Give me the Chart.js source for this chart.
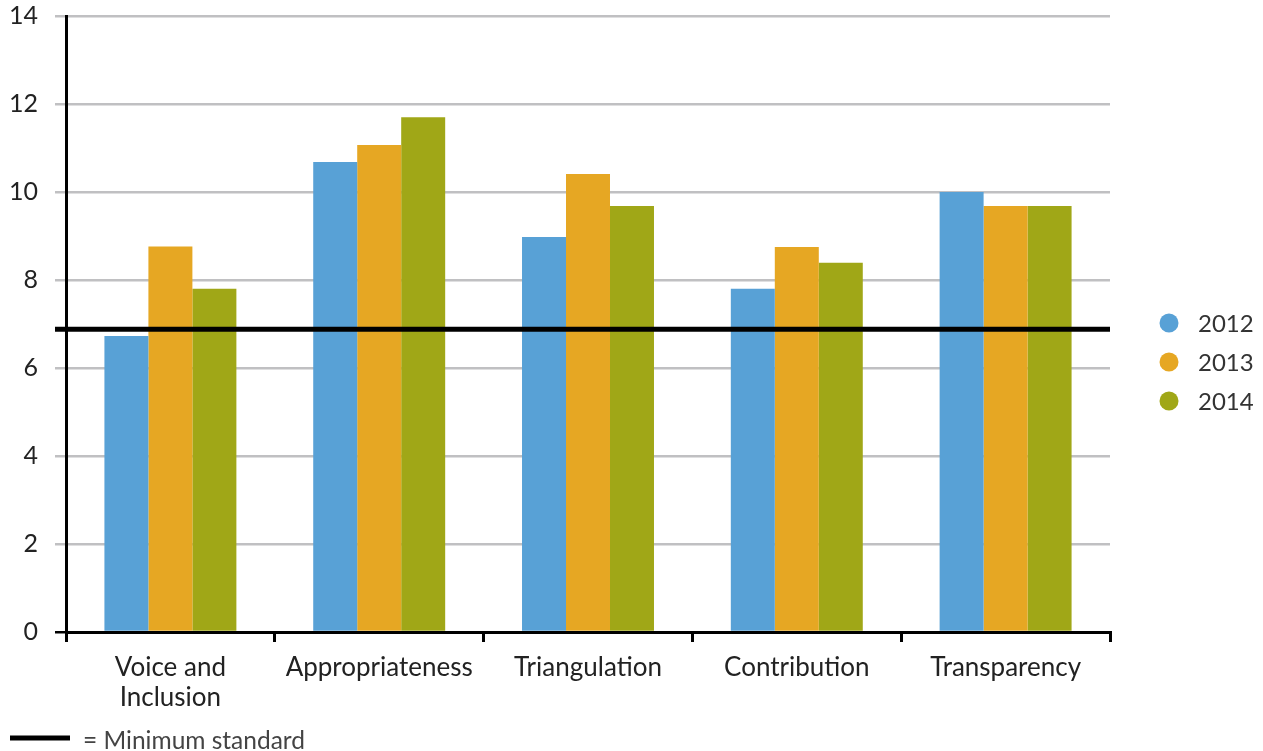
<!DOCTYPE html>
<html>
<head>
<meta charset="utf-8">
<script src="https://cdn.jsdelivr.net/npm/chart.js@4/dist/chart.umd.min.js"></script>
<style>
  html, body { margin: 0; padding: 0; background: #fff; }
  #wrap { width: 1263px; height: 751px; position: relative; }
</style>
</head>
<body>
<div id="wrap"><canvas id="c" width="1263" height="751"></canvas></div>
<script>
// Criteria scored each year
const categories = [['Voice and', 'Inclusion'], 'Appropriateness', 'Triangulation', 'Contribution', 'Transparency'];
const years = ['2012', '2013', '2014'];
const scores2012 = [6.73, 10.68, 8.98, 7.80, 10.00];
const scores2013 = [8.76, 11.07, 10.41, 8.75, 9.68];
const scores2014 = [7.80, 11.70, 9.68, 8.39, 9.68];
const minimumStandard = 6.88;
const minimumStandardLabel = '= Minimum standard';
const yMin = 0, yMax = 14, yStep = 2;

const colors = ['#58a1d6', '#e6a723', '#a0a717'];
const FONT = 'Lato, "Open Sans", sans-serif';

// Horizontal reference line for the minimum standard, drawn over the bars
const minLinePlugin = {
  id: 'minLine',
  afterDatasetsDraw(chart) {
    const { ctx, chartArea, scales } = chart;
    const y = scales.y.getPixelForValue(minimumStandard);
    ctx.save();
    ctx.strokeStyle = '#000';
    ctx.lineWidth = 5;
    ctx.beginPath();
    ctx.moveTo(chartArea.left - 11, y);
    ctx.lineTo(chartArea.right, y);
    ctx.stroke();
    ctx.restore();
  }
};

// Year legend on the right and the key for the reference line at the bottom
const legendPlugin = {
  id: 'customLegend',
  afterDraw(chart) {
    const { ctx } = chart;
    ctx.save();
    ctx.font = '24px ' + FONT;
    ctx.textBaseline = 'middle';
    chart.data.datasets.forEach((ds, i) => {
      const y = 323 + i * 39;
      ctx.fillStyle = ds.backgroundColor;
      ctx.beginPath();
      ctx.arc(1169, y, 9.5, 0, Math.PI * 2);
      ctx.fill();
      ctx.fillStyle = '#333';
      ctx.textAlign = 'left';
      ctx.fillText(ds.label, 1198, y + 1);
    });
    ctx.strokeStyle = '#000';
    ctx.lineWidth = 5;
    ctx.beginPath();
    ctx.moveTo(10, 738);
    ctx.lineTo(70, 738);
    ctx.stroke();
    ctx.fillStyle = '#444';
    ctx.font = '24.5px ' + FONT;
    ctx.fillText(minimumStandardLabel, 83, 741);
    ctx.restore();
  }
};

new Chart(document.getElementById('c'), {
  type: 'bar',
  data: {
    labels: categories,
    datasets: [
      { label: years[0], data: scores2012, backgroundColor: colors[0] },
      { label: years[1], data: scores2013, backgroundColor: colors[1] },
      { label: years[2], data: scores2014, backgroundColor: colors[2] }
    ]
  },
  options: {
    responsive: false,
    animation: false,
    events: [],
    datasets: { bar: { categoryPercentage: 0.632, barPercentage: 1, borderWidth: 0 } },
    layout: { padding: { top: 16, right: 153, bottom: 0, left: 0 } },
    plugins: { legend: { display: false }, tooltip: { enabled: false } },
    scales: {
      x: {
        afterFit(scale) { scale.height = 119; },
        grid: { drawOnChartArea: false, drawTicks: true, tickLength: 10, tickColor: '#000', lineWidth: 3, offset: true },
        border: { display: true, color: '#000', width: 3 },
        ticks: { color: '#222', font: { family: FONT, size: 26, lineHeight: 1.14 }, padding: 11, maxRotation: 0, autoSkip: false }
      },
      y: {
        min: yMin, max: yMax,
        afterFit(scale) { scale.width = 66; scale.paddingTop = 0; scale.paddingBottom = 0; },
        grid: {
          color: ctx => ctx.tick && ctx.tick.value === 0 ? '#000' : '#c0c0c2',
          lineWidth: 2.5,
          tickLength: 11
        },
        border: { display: true, color: '#000', width: 3 },
        ticks: { stepSize: yStep, color: '#222', font: { family: FONT, size: 25 }, padding: 17 }
      }
    }
  },
  plugins: [minLinePlugin, legendPlugin]
});
</script>
</body>
</html>
